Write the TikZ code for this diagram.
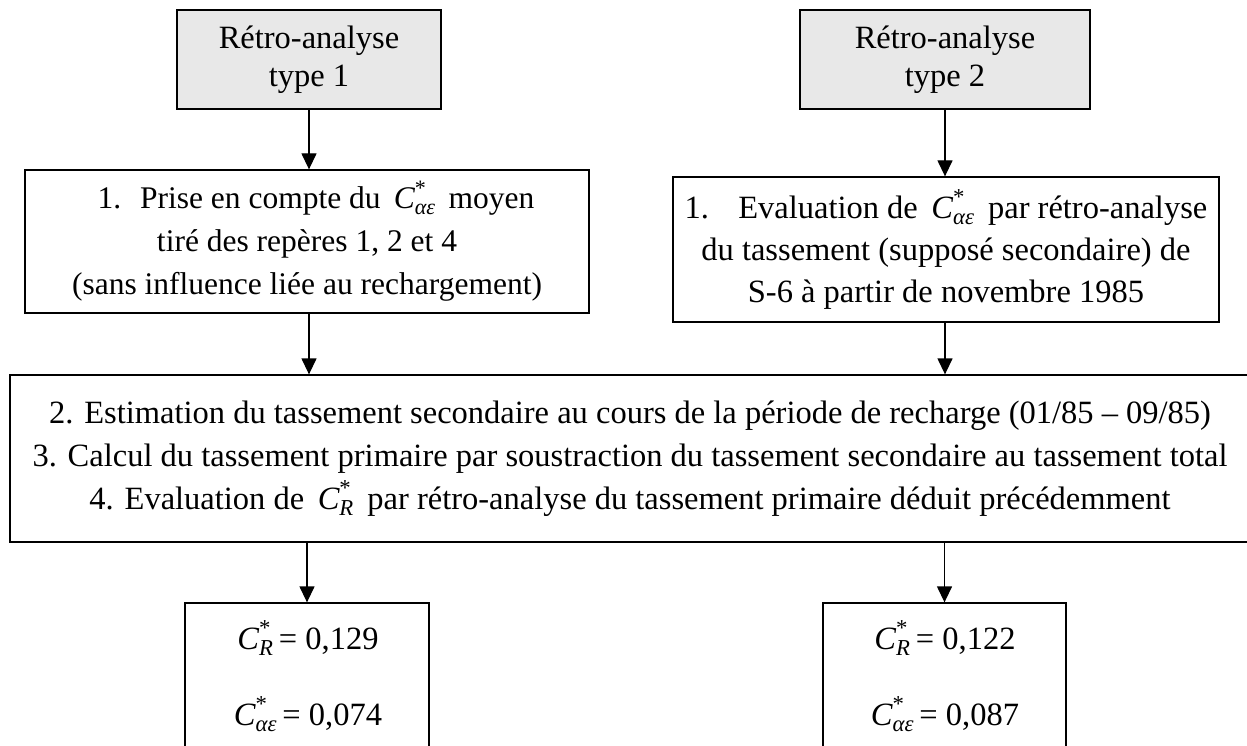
\documentclass[tikz,border=0pt]{standalone}
\usepackage{fontspec}
\setmainfont{Liberation Serif}
\usepackage{amsmath}
\usetikzlibrary{arrows.meta}
\newcommand\Cv[1]{$\textit{C}^{\textup{*}}_{\textit{#1}}$}
\begin{document}
\begin{tikzpicture}[x=1pt,y=-1pt,
  box/.style={draw, line width=1.3pt, inner sep=0pt, align=center, font=\fontsize{32.5}{42}\selectfont},
  gbox/.style={box, fill=black!9, font=\fontsize{32.5}{38}\selectfont},
  txt/.style={align=center, inner sep=0pt, font=\fontsize{32.5}{40}\selectfont},
  arr/.style={line width=1.3pt, -{Triangle[width=15pt,length=16pt]}}]
\clip (0,0) rectangle (1247,746);
% top grey boxes
\node[gbox, minimum width=264pt, minimum height=99pt] (g1) at (309,59.5) {Rétro-analyse\\type 1};
\node[gbox, minimum width=290pt, minimum height=99pt] (g2) at (945,59.5) {Rétro-analyse\\type 2};
% step 1 boxes
\node[box, minimum width=564pt, minimum height=143pt, font=\fontsize{31.5}{43}\selectfont] (b1) at (307,241.5)
  {\hspace*{18pt}1.\hspace{0.6em}Prise en compte du \,\Cv{αε}\, moyen\\tiré des repères 1, 2 et 4\\(sans influence liée au rechargement)};
\node[box, minimum width=546pt, minimum height=145pt] (b2) at (946,249.5)
  {1.\hspace{0.9em}Evaluation de \,\Cv{αε}\, par rétro-analyse\\du tassement (supposé secondaire) de\\S-6 à partir de novembre 1985};
% big box
\node[box, minimum width=1240pt, minimum height=167pt, font=\fontsize{32.5}{43}\selectfont] (big) at (630,458.5)
  {2. Estimation du tassement secondaire au cours de la période de recharge (01/85 – 09/85)\\
   3. Calcul du tassement primaire par soustraction du tassement secondaire au tassement total\\
   4. Evaluation de \,\Cv{R}\, par rétro-analyse du tassement primaire déduit précédemment};
% result boxes
\node[box, minimum width=244pt, minimum height=150pt] (r1) at (307,678) {};
\node[box, minimum width=243pt, minimum height=150pt] (r2) at (944.5,678) {};
\node[txt] (r1a) at (308,638) {\Cv{R}\,= 0,129};
\node[txt] (r1b) at (308,714) {\Cv{αε}\,= 0,074};
\node[txt] (r2a) at (945,638) {\Cv{R}\,= 0,122};
\node[txt] (r2b) at (945,714) {\Cv{αε}\,= 0,087};
% arrows
\draw[arr] (g1.south) -- (g1.south |- b1.north);
\draw[arr] (g1.south |- b1.south) -- (g1.south |- big.north);
\draw[arr] (r1.north |- big.south) -- (r1.north);
\draw[arr] (g2.south) -- (g2.south |- b2.north);
\draw[arr] (g2.south |- b2.south) -- (g2.south |- big.north);
\draw[arr] (r2.north |- big.south) -- (r2.north);
\end{tikzpicture}
\end{document}
